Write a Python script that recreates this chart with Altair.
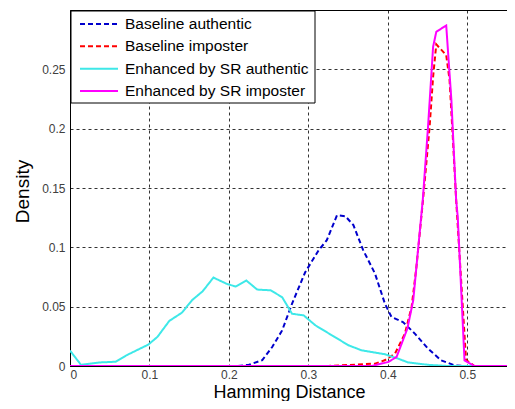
import altair as alt
import pandas as pd

series = ["Baseline authentic", "Baseline imposter",
          "Enhanced by SR authentic", "Enhanced by SR imposter"]
colors = ["#0000CC", "#FF0000", "#3EE8E8", "#FF00FF"]
dashes = [[5, 3], [5, 3], [1, 0], [1, 0]]

ba_x = [0, 0.21, 0.2253, 0.242, 0.2545, 0.267, 0.2795, 0.296, 0.313, 0.3232, 0.336, 0.3466,
        0.3567, 0.369, 0.3838, 0.3963, 0.4046, 0.419, 0.434, 0.4505, 0.467, 0.484, 0.495, 0.55]
ba_y = [0, 0, 0.001, 0.005, 0.016, 0.030, 0.0526, 0.079, 0.0976, 0.106, 0.127, 0.1262,
        0.1187, 0.0976, 0.078, 0.0526, 0.0413, 0.0371, 0.0273, 0.0147, 0.0048, 0.0006, 0, 0]

bi_x = [0, 0.325, 0.384, 0.396, 0.409, 0.4215, 0.43, 0.436, 0.4443, 0.4526, 0.457, 0.461,
        0.4735, 0.4777, 0.482, 0.486, 0.4985, 0.509, 0.55]
bi_y = [0, 0, 0.002, 0.0048, 0.0104, 0.0273, 0.05, 0.0835, 0.14, 0.2015, 0.2437, 0.271,
        0.262, 0.241, 0.19, 0.14, 0.005, 0, 0]

ea_x = [0, 0.0138, 0.0375, 0.0576, 0.071, 0.0985, 0.11, 0.125, 0.141, 0.1535, 0.167, 0.1805,
        0.198, 0.2086, 0.222, 0.2356, 0.2524, 0.267, 0.2795, 0.294, 0.3088, 0.3295, 0.3504,
        0.367, 0.3963, 0.413, 0.4255, 0.4506, 0.476, 0.55]
ea_y = [0.013, 0.001, 0.003, 0.0036, 0.009, 0.018, 0.0245, 0.038, 0.045, 0.0554, 0.063, 0.0745,
        0.069, 0.067, 0.072, 0.0644, 0.0638, 0.058, 0.044, 0.0427, 0.0343, 0.0259, 0.0175,
        0.0132, 0.0099, 0.0062, 0.003, 0.001, 0, 0]

ei_x = [0, 0.38, 0.4005, 0.411, 0.4246, 0.432, 0.438, 0.444, 0.4506, 0.457, 0.461, 0.4735,
        0.48, 0.486, 0.488, 0.4965, 0.509, 0.55]
ei_y = [0, 0, 0.0034, 0.0076, 0.0315, 0.0554, 0.0976, 0.14, 0.2015, 0.269, 0.2816, 0.287,
        0.224, 0.14, 0.1256, 0.0048, 0, 0]

x_ticks = [0, 0.1, 0.2, 0.3, 0.4, 0.5]
y_ticks = [0, 0.05, 0.1, 0.15, 0.2, 0.25]

rows = []
for name, xs, ys in zip(series, [ba_x, bi_x, ea_x, ei_x], [ba_y, bi_y, ea_y, ei_y]):
    for xv, yv in zip(xs, ys):
        rows.append({"series": name, "x": xv, "y": yv})
df = pd.DataFrame(rows)

color_scale = alt.Scale(domain=series, range=colors)
dash_scale = alt.Scale(domain=series, range=dashes)

lines = alt.Chart(df).mark_line(strokeWidth=2, clip=True).encode(
    x=alt.X("x:Q", scale=alt.Scale(domain=[0, 0.55], nice=False),
            axis=alt.Axis(values=x_ticks, format=".1~f", title="Hamming Distance",
                          titleX=219, titleY=31, titleBaseline="alphabetic", titleAlign="center",
                          labelPadding=3, titleFontSize=18)),
    y=alt.Y("y:Q", scale=alt.Scale(domain=[0, 0.3], nice=False),
            axis=alt.Axis(values=y_ticks, format=".2~f", title="Density",
                          titleX=-42, titleY=181, titleBaseline="alphabetic", titleAlign="center",
                          titleAngle=270, labelPadding=5, titleFontSize=19)),
    color=alt.Color("series:N", scale=color_scale, legend=None),
    strokeDash=alt.StrokeDash("series:N", scale=dash_scale, legend=None),
    detail="series:N",
)

leg_df = pd.DataFrame({"series": series})

box = alt.Chart(leg_df).mark_rect(fill="white", stroke="black", strokeWidth=1).encode(
    x=alt.value(1), x2=alt.value(245), y=alt.value(1), y2=alt.value(93)
).transform_filter(alt.datum.series == series[0])

leg_y = alt.Y("series:N", scale=alt.Scale(domain=series, range=[14, 81], type="point", padding=0), axis=None)

leg_lines = alt.Chart(leg_df).mark_rule(strokeWidth=2).encode(
    x=alt.value(10), x2=alt.value(48), y=leg_y,
    color=alt.Color("series:N", scale=color_scale, legend=None),
    strokeDash=alt.StrokeDash("series:N", scale=dash_scale, legend=None),
)

leg_text = alt.Chart(leg_df).mark_text(align="left", baseline="middle", fontSize=15.5,
                                        font="Liberation Sans", color="black").encode(
    x=alt.value(55), y=leg_y, text="series:N"
)

chart = alt.layer(lines, box, leg_lines, leg_text).resolve_scale(y="independent").properties(
    width=437, height=356,
    autosize=alt.AutoSizeParams(type="none"),
    padding={"left": 62, "top": 2, "right": 0, "bottom": 35},
    background="white",
).configure_view(stroke="black", strokeWidth=1).configure_axis(
    grid=True, gridColor="black", gridDash=[3, 3], gridOpacity=0.8, gridWidth=1,
    domainColor="black", ticks=False,
    labelFont="Liberation Sans", labelFontSize=12, labelColor="#404040",
    titleFont="Liberation Sans", titleFontWeight="normal", titleColor="black",
)

chart.save("out.html", embed_options={"renderer": "svg", "actions": False})
